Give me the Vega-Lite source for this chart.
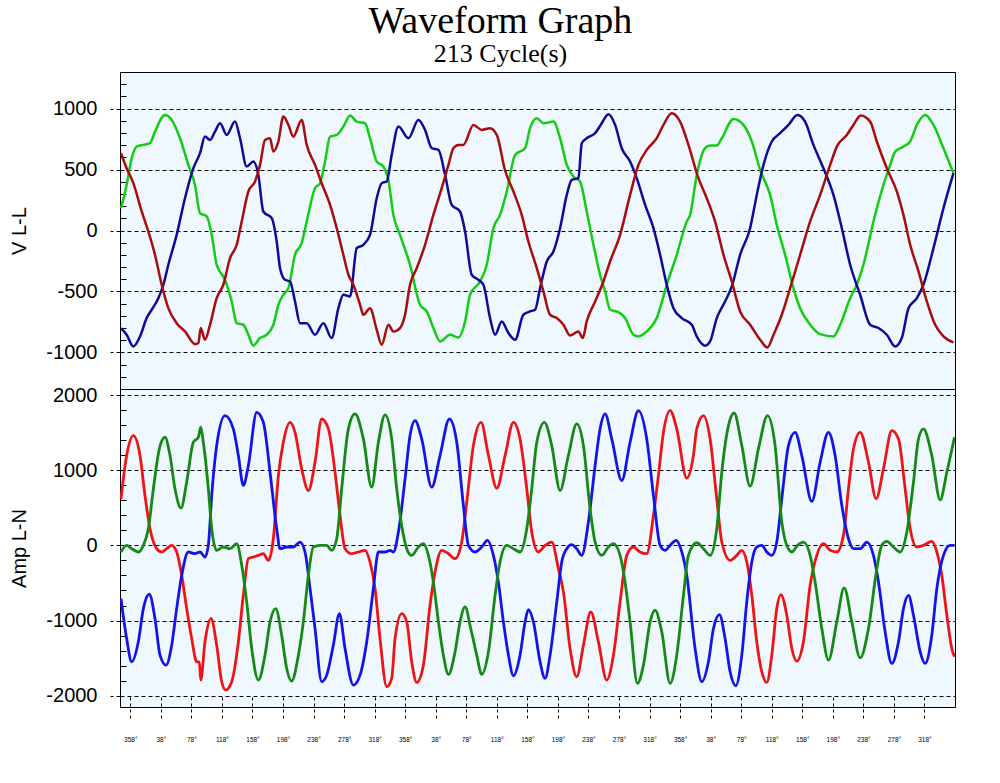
{
  "$schema": "https://vega.github.io/schema/vega-lite/v6.json",
  "background": "white",
  "padding": {"left": 9, "top": 2, "right": 45, "bottom": 35},
  "bounds": "flush",
  "title": {"text": "Waveform Graph", "subtitle": "213 Cycle(s)", "font": "Liberation Serif", "fontSize": 38, "fontWeight": "normal", "color": "black", "subtitleFont": "Liberation Serif", "subtitleFontSize": 26, "subtitleColor": "black", "subtitlePadding": 0, "anchor": "middle", "frame": "bounds", "offset": 5, "dx": 18},
  "datasets": {
    "vll": [
      {"deg":345.8,"ph":"Vab","v":183},{"deg":353.2,"ph":"Vab","v":374},{"deg":359.8,"ph":"Vab","v":593},{"deg":366.3,"ph":"Vab","v":688},{"deg":375.1,"ph":"Vab","v":702},{"deg":383.8,"ph":"Vab","v":716},{"deg":390.3,"ph":"Vab","v":811},{"deg":403.4,"ph":"Vab","v":948},{"deg":412.2,"ph":"Vab","v":907},{"deg":423.1,"ph":"Vab","v":757},{"deg":434.0,"ph":"Vab","v":538},{"deg":442.7,"ph":"Vab","v":374},{"deg":449.3,"ph":"Vab","v":142},{"deg":458.0,"ph":"Vab","v":115},{"deg":464.6,"ph":"Vab","v":-36},{"deg":471.1,"ph":"Vab","v":-281},{"deg":482.0,"ph":"Vab","v":-404},{"deg":490.8,"ph":"Vab","v":-582},{"deg":497.3,"ph":"Vab","v":-760},{"deg":506.0,"ph":"Vab","v":-773},{"deg":512.6,"ph":"Vab","v":-855},{"deg":519.1,"ph":"Vab","v":-943},{"deg":527.9,"ph":"Vab","v":-882},{"deg":536.6,"ph":"Vab","v":-855},{"deg":545.3,"ph":"Vab","v":-773},{"deg":551.9,"ph":"Vab","v":-609},{"deg":558.4,"ph":"Vab","v":-527},{"deg":565.0,"ph":"Vab","v":-473},{"deg":573.7,"ph":"Vab","v":-199},{"deg":582.4,"ph":"Vab","v":-104},{"deg":589.0,"ph":"Vab","v":74},{"deg":599.9,"ph":"Vab","v":347},{"deg":606.5,"ph":"Vab","v":388},{"deg":613.0,"ph":"Vab","v":566},{"deg":619.6,"ph":"Vab","v":770},{"deg":628.3,"ph":"Vab","v":784},{"deg":637.0,"ph":"Vab","v":852},{"deg":645.8,"ph":"Vab","v":943},{"deg":654.5,"ph":"Vab","v":893},{"deg":665.4,"ph":"Vab","v":880},{"deg":671.9,"ph":"Vab","v":757},{"deg":680.7,"ph":"Vab","v":566},{"deg":689.4,"ph":"Vab","v":525},{"deg":696.0,"ph":"Vab","v":415},{"deg":702.5,"ph":"Vab","v":128},{"deg":711.2,"ph":"Vab","v":-36},{"deg":724.3,"ph":"Vab","v":-281},{"deg":737.4,"ph":"Vab","v":-609},{"deg":746.2,"ph":"Vab","v":-664},{"deg":754.9,"ph":"Vab","v":-800},{"deg":763.6,"ph":"Vab","v":-910},{"deg":776.7,"ph":"Vab","v":-855},{"deg":787.7,"ph":"Vab","v":-877},{"deg":796.4,"ph":"Vab","v":-746},{"deg":802.9,"ph":"Vab","v":-527},{"deg":816.0,"ph":"Vab","v":-418},{"deg":824.8,"ph":"Vab","v":-281},{"deg":833.5,"ph":"Vab","v":19},{"deg":842.2,"ph":"Vab","v":128},{"deg":851.0,"ph":"Vab","v":320},{"deg":861.9,"ph":"Vab","v":620},{"deg":875.0,"ph":"Vab","v":675},{"deg":881.5,"ph":"Vab","v":839},{"deg":890.3,"ph":"Vab","v":921},{"deg":899.0,"ph":"Vab","v":880},{"deg":912.1,"ph":"Vab","v":893},{"deg":920.8,"ph":"Vab","v":757},{"deg":929.6,"ph":"Vab","v":538},{"deg":938.3,"ph":"Vab","v":443},{"deg":947.0,"ph":"Vab","v":402},{"deg":955.7,"ph":"Vab","v":156},{"deg":964.5,"ph":"Vab","v":-117},{"deg":973.2,"ph":"Vab","v":-363},{"deg":979.8,"ph":"Vab","v":-500},{"deg":986.3,"ph":"Vab","v":-650},{"deg":997.2,"ph":"Vab","v":-669},{"deg":1005.9,"ph":"Vab","v":-718},{"deg":1016.9,"ph":"Vab","v":-855},{"deg":1023.4,"ph":"Vab","v":-869},{"deg":1034.3,"ph":"Vab","v":-828},{"deg":1047.4,"ph":"Vab","v":-718},{"deg":1060.5,"ph":"Vab","v":-445},{"deg":1073.6,"ph":"Vab","v":-199},{"deg":1086.7,"ph":"Vab","v":74},{"deg":1091.1,"ph":"Vab","v":128},{"deg":1099.8,"ph":"Vab","v":456},{"deg":1110.7,"ph":"Vab","v":675},{"deg":1117.3,"ph":"Vab","v":697},{"deg":1126.0,"ph":"Vab","v":697},{"deg":1132.6,"ph":"Vab","v":757},{"deg":1147.9,"ph":"Vab","v":915},{"deg":1161.0,"ph":"Vab","v":866},{"deg":1171.9,"ph":"Vab","v":730},{"deg":1182.8,"ph":"Vab","v":497},{"deg":1195.9,"ph":"Vab","v":292},{"deg":1204.6,"ph":"Vab","v":46},{"deg":1215.5,"ph":"Vab","v":-199},{"deg":1226.4,"ph":"Vab","v":-473},{"deg":1235.2,"ph":"Vab","v":-637},{"deg":1248.3,"ph":"Vab","v":-773},{"deg":1261.4,"ph":"Vab","v":-850},{"deg":1278.8,"ph":"Vab","v":-869},{"deg":1287.6,"ph":"Vab","v":-773},{"deg":1300.7,"ph":"Vab","v":-555},{"deg":1309.4,"ph":"Vab","v":-445},{"deg":1318.1,"ph":"Vab","v":-281},{"deg":1331.2,"ph":"Vab","v":74},{"deg":1344.3,"ph":"Vab","v":374},{"deg":1353.1,"ph":"Vab","v":538},{"deg":1359.6,"ph":"Vab","v":647},{"deg":1370.5,"ph":"Vab","v":688},{"deg":1379.3,"ph":"Vab","v":730},{"deg":1388.0,"ph":"Vab","v":866},{"deg":1398.9,"ph":"Vab","v":948},{"deg":1409.8,"ph":"Vab","v":866},{"deg":1422.9,"ph":"Vab","v":675},{"deg":1436.0,"ph":"Vab","v":470},
      {"deg":345.8,"ph":"Vbc","v":-800},{"deg":353.2,"ph":"Vbc","v":-855},{"deg":362.0,"ph":"Vbc","v":-951},{"deg":370.7,"ph":"Vbc","v":-869},{"deg":379.4,"ph":"Vbc","v":-718},{"deg":386.0,"ph":"Vbc","v":-650},{"deg":394.7,"ph":"Vbc","v":-555},{"deg":401.3,"ph":"Vbc","v":-445},{"deg":407.8,"ph":"Vbc","v":-281},{"deg":418.7,"ph":"Vbc","v":-36},{"deg":429.6,"ph":"Vbc","v":265},{"deg":440.6,"ph":"Vbc","v":511},{"deg":449.3,"ph":"Vbc","v":634},{"deg":455.8,"ph":"Vbc","v":770},{"deg":462.4,"ph":"Vbc","v":743},{"deg":468.9,"ph":"Vbc","v":811},{"deg":475.5,"ph":"Vbc","v":880},{"deg":484.2,"ph":"Vbc","v":784},{"deg":495.1,"ph":"Vbc","v":893},{"deg":501.7,"ph":"Vbc","v":757},{"deg":510.4,"ph":"Vbc","v":525},{"deg":519.1,"ph":"Vbc","v":566},{"deg":525.7,"ph":"Vbc","v":456},{"deg":532.2,"ph":"Vbc","v":156},{"deg":543.2,"ph":"Vbc","v":101},{"deg":549.7,"ph":"Vbc","v":-90},{"deg":554.1,"ph":"Vbc","v":-309},{"deg":560.6,"ph":"Vbc","v":-404},{"deg":567.2,"ph":"Vbc","v":-418},{"deg":573.7,"ph":"Vbc","v":-582},{"deg":580.3,"ph":"Vbc","v":-760},{"deg":589.0,"ph":"Vbc","v":-760},{"deg":599.9,"ph":"Vbc","v":-855},{"deg":610.8,"ph":"Vbc","v":-760},{"deg":621.7,"ph":"Vbc","v":-882},{"deg":630.5,"ph":"Vbc","v":-637},{"deg":637.0,"ph":"Vbc","v":-527},{"deg":645.8,"ph":"Vbc","v":-541},{"deg":654.5,"ph":"Vbc","v":-145},{"deg":663.2,"ph":"Vbc","v":-117},{"deg":671.9,"ph":"Vbc","v":-36},{"deg":680.7,"ph":"Vbc","v":265},{"deg":687.2,"ph":"Vbc","v":388},{"deg":693.8,"ph":"Vbc","v":402},{"deg":700.3,"ph":"Vbc","v":620},{"deg":709.1,"ph":"Vbc","v":852},{"deg":722.2,"ph":"Vbc","v":757},{"deg":735.3,"ph":"Vbc","v":907},{"deg":744.0,"ph":"Vbc","v":825},{"deg":752.7,"ph":"Vbc","v":675},{"deg":761.5,"ph":"Vbc","v":661},{"deg":770.2,"ph":"Vbc","v":456},{"deg":778.9,"ph":"Vbc","v":210},{"deg":789.8,"ph":"Vbc","v":156},{"deg":796.4,"ph":"Vbc","v":-8},{"deg":805.1,"ph":"Vbc","v":-363},{"deg":813.8,"ph":"Vbc","v":-404},{"deg":820.4,"ph":"Vbc","v":-445},{"deg":829.1,"ph":"Vbc","v":-718},{"deg":835.7,"ph":"Vbc","v":-855},{"deg":844.4,"ph":"Vbc","v":-746},{"deg":853.2,"ph":"Vbc","v":-841},{"deg":861.9,"ph":"Vbc","v":-896},{"deg":872.8,"ph":"Vbc","v":-691},{"deg":881.5,"ph":"Vbc","v":-664},{"deg":888.1,"ph":"Vbc","v":-650},{"deg":894.6,"ph":"Vbc","v":-473},{"deg":903.4,"ph":"Vbc","v":-254},{"deg":912.1,"ph":"Vbc","v":-172},{"deg":920.8,"ph":"Vbc","v":19},{"deg":929.6,"ph":"Vbc","v":292},{"deg":936.1,"ph":"Vbc","v":415},{"deg":944.8,"ph":"Vbc","v":429},{"deg":949.2,"ph":"Vbc","v":716},{"deg":955.7,"ph":"Vbc","v":757},{"deg":966.7,"ph":"Vbc","v":798},{"deg":975.4,"ph":"Vbc","v":880},{"deg":984.1,"ph":"Vbc","v":954},{"deg":992.9,"ph":"Vbc","v":866},{"deg":1001.6,"ph":"Vbc","v":675},{"deg":1012.5,"ph":"Vbc","v":566},{"deg":1021.2,"ph":"Vbc","v":429},{"deg":1032.2,"ph":"Vbc","v":210},{"deg":1043.1,"ph":"Vbc","v":19},{"deg":1051.8,"ph":"Vbc","v":-199},{"deg":1060.5,"ph":"Vbc","v":-445},{"deg":1069.3,"ph":"Vbc","v":-637},{"deg":1080.2,"ph":"Vbc","v":-718},{"deg":1093.3,"ph":"Vbc","v":-773},{"deg":1099.8,"ph":"Vbc","v":-869},{"deg":1110.7,"ph":"Vbc","v":-945},{"deg":1117.3,"ph":"Vbc","v":-910},{"deg":1126.0,"ph":"Vbc","v":-718},{"deg":1136.9,"ph":"Vbc","v":-582},{"deg":1145.7,"ph":"Vbc","v":-459},{"deg":1156.6,"ph":"Vbc","v":-199},{"deg":1169.7,"ph":"Vbc","v":19},{"deg":1178.4,"ph":"Vbc","v":292},{"deg":1187.2,"ph":"Vbc","v":538},{"deg":1198.1,"ph":"Vbc","v":730},{"deg":1209.0,"ph":"Vbc","v":798},{"deg":1219.9,"ph":"Vbc","v":866},{"deg":1231.7,"ph":"Vbc","v":948},{"deg":1241.7,"ph":"Vbc","v":893},{"deg":1252.6,"ph":"Vbc","v":702},{"deg":1265.7,"ph":"Vbc","v":511},{"deg":1278.8,"ph":"Vbc","v":292},{"deg":1289.8,"ph":"Vbc","v":19},{"deg":1300.7,"ph":"Vbc","v":-281},{"deg":1313.8,"ph":"Vbc","v":-527},{"deg":1326.9,"ph":"Vbc","v":-773},{"deg":1337.8,"ph":"Vbc","v":-800},{"deg":1348.7,"ph":"Vbc","v":-855},{"deg":1359.6,"ph":"Vbc","v":-951},{"deg":1368.3,"ph":"Vbc","v":-882},{"deg":1377.1,"ph":"Vbc","v":-637},{"deg":1388.0,"ph":"Vbc","v":-555},{"deg":1396.7,"ph":"Vbc","v":-445},{"deg":1409.8,"ph":"Vbc","v":-145},{"deg":1422.9,"ph":"Vbc","v":183},{"deg":1436.0,"ph":"Vbc","v":470},
      {"deg":345.8,"ph":"Vca","v":634},{"deg":353.2,"ph":"Vca","v":511},{"deg":362.0,"ph":"Vca","v":388},{"deg":372.9,"ph":"Vca","v":156},{"deg":381.6,"ph":"Vca","v":-8},{"deg":390.3,"ph":"Vca","v":-199},{"deg":399.1,"ph":"Vca","v":-445},{"deg":407.8,"ph":"Vca","v":-637},{"deg":418.7,"ph":"Vca","v":-760},{"deg":429.6,"ph":"Vca","v":-828},{"deg":442.7,"ph":"Vca","v":-932},{"deg":447.1,"ph":"Vca","v":-923},{"deg":450.2,"ph":"Vca","v":-800},{"deg":455.8,"ph":"Vca","v":-896},{"deg":462.4,"ph":"Vca","v":-773},{"deg":471.1,"ph":"Vca","v":-555},{"deg":479.8,"ph":"Vca","v":-445},{"deg":488.6,"ph":"Vca","v":-227},{"deg":497.3,"ph":"Vca","v":-117},{"deg":503.9,"ph":"Vca","v":74},{"deg":512.6,"ph":"Vca","v":320},{"deg":521.3,"ph":"Vca","v":402},{"deg":527.9,"ph":"Vca","v":538},{"deg":534.4,"ph":"Vca","v":743},{"deg":541.0,"ph":"Vca","v":757},{"deg":545.3,"ph":"Vca","v":648},{"deg":551.9,"ph":"Vca","v":730},{"deg":558.4,"ph":"Vca","v":934},{"deg":565.0,"ph":"Vca","v":866},{"deg":571.5,"ph":"Vca","v":770},{"deg":582.4,"ph":"Vca","v":907},{"deg":589.0,"ph":"Vca","v":702},{"deg":599.9,"ph":"Vca","v":538},{"deg":608.6,"ph":"Vca","v":388},{"deg":619.6,"ph":"Vca","v":210},{"deg":628.3,"ph":"Vca","v":19},{"deg":637.0,"ph":"Vca","v":-199},{"deg":643.6,"ph":"Vca","v":-363},{"deg":650.1,"ph":"Vca","v":-445},{"deg":658.9,"ph":"Vca","v":-609},{"deg":663.2,"ph":"Vca","v":-691},{"deg":671.9,"ph":"Vca","v":-637},{"deg":680.7,"ph":"Vca","v":-814},{"deg":687.2,"ph":"Vca","v":-937},{"deg":696.0,"ph":"Vca","v":-773},{"deg":702.5,"ph":"Vca","v":-828},{"deg":711.2,"ph":"Vca","v":-800},{"deg":717.8,"ph":"Vca","v":-691},{"deg":724.3,"ph":"Vca","v":-445},{"deg":733.1,"ph":"Vca","v":-309},{"deg":744.0,"ph":"Vca","v":-117},{"deg":754.9,"ph":"Vca","v":128},{"deg":765.8,"ph":"Vca","v":347},{"deg":774.6,"ph":"Vca","v":538},{"deg":781.1,"ph":"Vca","v":675},{"deg":787.7,"ph":"Vca","v":702},{"deg":794.2,"ph":"Vca","v":702},{"deg":807.3,"ph":"Vca","v":866},{"deg":818.2,"ph":"Vca","v":825},{"deg":829.1,"ph":"Vca","v":839},{"deg":837.9,"ph":"Vca","v":784},{"deg":848.8,"ph":"Vca","v":492},{"deg":859.7,"ph":"Vca","v":320},{"deg":870.6,"ph":"Vca","v":128},{"deg":879.3,"ph":"Vca","v":-90},{"deg":890.3,"ph":"Vca","v":-309},{"deg":899.0,"ph":"Vca","v":-500},{"deg":907.7,"ph":"Vca","v":-691},{"deg":916.5,"ph":"Vca","v":-718},{"deg":925.2,"ph":"Vca","v":-773},{"deg":933.9,"ph":"Vca","v":-861},{"deg":944.8,"ph":"Vca","v":-828},{"deg":950.5,"ph":"Vca","v":-882},{"deg":955.7,"ph":"Vca","v":-746},{"deg":966.7,"ph":"Vca","v":-582},{"deg":977.6,"ph":"Vca","v":-418},{"deg":986.3,"ph":"Vca","v":-254},{"deg":999.4,"ph":"Vca","v":-36},{"deg":1012.5,"ph":"Vca","v":292},{"deg":1023.4,"ph":"Vca","v":538},{"deg":1034.3,"ph":"Vca","v":661},{"deg":1047.4,"ph":"Vca","v":757},{"deg":1056.2,"ph":"Vca","v":866},{"deg":1067.1,"ph":"Vca","v":962},{"deg":1078.0,"ph":"Vca","v":893},{"deg":1088.9,"ph":"Vca","v":702},{"deg":1102.0,"ph":"Vca","v":429},{"deg":1112.9,"ph":"Vca","v":265},{"deg":1123.8,"ph":"Vca","v":74},{"deg":1134.8,"ph":"Vca","v":-199},{"deg":1145.7,"ph":"Vca","v":-418},{"deg":1156.6,"ph":"Vca","v":-664},{"deg":1169.7,"ph":"Vca","v":-773},{"deg":1182.8,"ph":"Vca","v":-896},{"deg":1192.4,"ph":"Vca","v":-959},{"deg":1200.3,"ph":"Vca","v":-855},{"deg":1211.2,"ph":"Vca","v":-691},{"deg":1222.1,"ph":"Vca","v":-473},{"deg":1235.2,"ph":"Vca","v":-199},{"deg":1248.3,"ph":"Vca","v":74},{"deg":1261.4,"ph":"Vca","v":292},{"deg":1274.5,"ph":"Vca","v":538},{"deg":1283.2,"ph":"Vca","v":688},{"deg":1296.3,"ph":"Vca","v":784},{"deg":1305.0,"ph":"Vca","v":866},{"deg":1314.6,"ph":"Vca","v":943},{"deg":1326.9,"ph":"Vca","v":893},{"deg":1335.6,"ph":"Vca","v":730},{"deg":1348.7,"ph":"Vca","v":511},{"deg":1361.8,"ph":"Vca","v":320},{"deg":1370.5,"ph":"Vca","v":128},{"deg":1379.3,"ph":"Vca","v":-117},{"deg":1390.2,"ph":"Vca","v":-336},{"deg":1401.1,"ph":"Vca","v":-582},{"deg":1412.0,"ph":"Vca","v":-773},{"deg":1422.9,"ph":"Vca","v":-869},{"deg":1436.0,"ph":"Vca","v":-918}
    ],
    "amp": [
      {"deg":345.8,"ph":"Ia","a":620},{"deg":353.2,"ph":"Ia","a":1195},{"deg":362.0,"ph":"Ia","a":1460},{"deg":370.7,"ph":"Ia","a":1195},{"deg":377.2,"ph":"Ia","a":664},{"deg":383.8,"ph":"Ia","a":221},{"deg":392.5,"ph":"Ia","a":-44},{"deg":399.1,"ph":"Ia","a":-88},{"deg":405.6,"ph":"Ia","a":-44},{"deg":412.2,"ph":"Ia","a":0},{"deg":418.7,"ph":"Ia","a":-88},{"deg":425.3,"ph":"Ia","a":-398},{"deg":431.8,"ph":"Ia","a":-841},{"deg":438.4,"ph":"Ia","a":-1239},{"deg":444.9,"ph":"Ia","a":-1549},{"deg":448.4,"ph":"Ia","a":-1549},{"deg":450.2,"ph":"Ia","a":-1792},{"deg":455.8,"ph":"Ia","a":-1283},{"deg":463.7,"ph":"Ia","a":-973},{"deg":471.1,"ph":"Ia","a":-1327},{"deg":477.7,"ph":"Ia","a":-1814},{"deg":482.9,"ph":"Ia","a":-1925},{"deg":490.8,"ph":"Ia","a":-1814},{"deg":499.5,"ph":"Ia","a":-1283},{"deg":506.0,"ph":"Ia","a":-664},{"deg":512.6,"ph":"Ia","a":-177},{"deg":519.1,"ph":"Ia","a":-155},{"deg":525.7,"ph":"Ia","a":-133},{"deg":532.2,"ph":"Ia","a":-111},{"deg":538.8,"ph":"Ia","a":-199},{"deg":545.3,"ph":"Ia","a":88},{"deg":551.9,"ph":"Ia","a":929},{"deg":558.4,"ph":"Ia","a":1372},{"deg":567.2,"ph":"Ia","a":1637},{"deg":573.7,"ph":"Ia","a":1504},{"deg":582.4,"ph":"Ia","a":1018},{"deg":591.2,"ph":"Ia","a":730},{"deg":599.9,"ph":"Ia","a":1106},{"deg":608.6,"ph":"Ia","a":1681},{"deg":617.4,"ph":"Ia","a":1549},{"deg":626.1,"ph":"Ia","a":973},{"deg":632.7,"ph":"Ia","a":398},{"deg":639.2,"ph":"Ia","a":-44},{"deg":647.9,"ph":"Ia","a":-111},{"deg":656.7,"ph":"Ia","a":-88},{"deg":665.4,"ph":"Ia","a":-66},{"deg":671.9,"ph":"Ia","a":-221},{"deg":678.5,"ph":"Ia","a":-575},{"deg":685.0,"ph":"Ia","a":-1239},{"deg":693.8,"ph":"Ia","a":-1881},{"deg":700.3,"ph":"Ia","a":-1770},{"deg":704.7,"ph":"Ia","a":-1239},{"deg":713.4,"ph":"Ia","a":-907},{"deg":720.0,"ph":"Ia","a":-1018},{"deg":726.5,"ph":"Ia","a":-1549},{"deg":733.1,"ph":"Ia","a":-1823},{"deg":741.8,"ph":"Ia","a":-1593},{"deg":750.5,"ph":"Ia","a":-797},{"deg":757.1,"ph":"Ia","a":-354},{"deg":765.8,"ph":"Ia","a":-66},{"deg":774.6,"ph":"Ia","a":-111},{"deg":783.3,"ph":"Ia","a":-177},{"deg":792.0,"ph":"Ia","a":44},{"deg":798.6,"ph":"Ia","a":575},{"deg":807.3,"ph":"Ia","a":1327},{"deg":817.3,"ph":"Ia","a":1637},{"deg":827.0,"ph":"Ia","a":1195},{"deg":837.9,"ph":"Ia","a":761},{"deg":848.8,"ph":"Ia","a":1195},{"deg":859.7,"ph":"Ia","a":1637},{"deg":868.4,"ph":"Ia","a":1416},{"deg":877.2,"ph":"Ia","a":752},{"deg":883.7,"ph":"Ia","a":177},{"deg":892.4,"ph":"Ia","a":-88},{"deg":901.2,"ph":"Ia","a":0},{"deg":909.9,"ph":"Ia","a":44},{"deg":918.6,"ph":"Ia","a":-310},{"deg":925.2,"ph":"Ia","a":-619},{"deg":933.9,"ph":"Ia","a":-1372},{"deg":942.6,"ph":"Ia","a":-1748},{"deg":951.4,"ph":"Ia","a":-1327},{"deg":961.0,"ph":"Ia","a":-885},{"deg":971.0,"ph":"Ia","a":-1283},{"deg":981.9,"ph":"Ia","a":-1792},{"deg":990.7,"ph":"Ia","a":-1460},{"deg":999.4,"ph":"Ia","a":-752},{"deg":1008.2,"ph":"Ia","a":-133},{"deg":1016.9,"ph":"Ia","a":-22},{"deg":1025.6,"ph":"Ia","a":-88},{"deg":1034.3,"ph":"Ia","a":-111},{"deg":1043.1,"ph":"Ia","a":398},{"deg":1049.6,"ph":"Ia","a":929},{"deg":1056.2,"ph":"Ia","a":1504},{"deg":1064.9,"ph":"Ia","a":1792},{"deg":1073.6,"ph":"Ia","a":1549},{"deg":1086.7,"ph":"Ia","a":894},{"deg":1095.4,"ph":"Ia","a":1195},{"deg":1099.8,"ph":"Ia","a":1549},{"deg":1108.6,"ph":"Ia","a":1726},{"deg":1117.3,"ph":"Ia","a":1416},{"deg":1126.0,"ph":"Ia","a":620},{"deg":1132.6,"ph":"Ia","a":44},{"deg":1143.5,"ph":"Ia","a":-199},{"deg":1152.2,"ph":"Ia","a":-133},{"deg":1158.8,"ph":"Ia","a":-66},{"deg":1165.3,"ph":"Ia","a":-221},{"deg":1171.9,"ph":"Ia","a":-664},{"deg":1178.4,"ph":"Ia","a":-1283},{"deg":1185.0,"ph":"Ia","a":-1681},{"deg":1191.5,"ph":"Ia","a":-1823},{"deg":1198.1,"ph":"Ia","a":-1460},{"deg":1204.6,"ph":"Ia","a":-841},{"deg":1209.9,"ph":"Ia","a":-655},{"deg":1217.7,"ph":"Ia","a":-929},{"deg":1224.3,"ph":"Ia","a":-1372},{"deg":1230.8,"ph":"Ia","a":-1540},{"deg":1239.5,"ph":"Ia","a":-1283},{"deg":1248.3,"ph":"Ia","a":-531},{"deg":1257.0,"ph":"Ia","a":-133},{"deg":1265.7,"ph":"Ia","a":22},{"deg":1274.5,"ph":"Ia","a":-66},{"deg":1283.2,"ph":"Ia","a":-88},{"deg":1291.9,"ph":"Ia","a":133},{"deg":1298.5,"ph":"Ia","a":752},{"deg":1305.0,"ph":"Ia","a":1283},{"deg":1313.8,"ph":"Ia","a":1504},{"deg":1324.7,"ph":"Ia","a":1106},{"deg":1334.7,"ph":"Ia","a":620},{"deg":1344.3,"ph":"Ia","a":1018},{"deg":1355.2,"ph":"Ia","a":1526},{"deg":1364.0,"ph":"Ia","a":1416},{"deg":1372.7,"ph":"Ia","a":752},{"deg":1379.3,"ph":"Ia","a":221},{"deg":1388.0,"ph":"Ia","a":-22},{"deg":1396.7,"ph":"Ia","a":0},{"deg":1407.6,"ph":"Ia","a":53},{"deg":1414.2,"ph":"Ia","a":-88},{"deg":1420.7,"ph":"Ia","a":-398},{"deg":1427.3,"ph":"Ia","a":-929},{"deg":1433.8,"ph":"Ia","a":-1372},{"deg":1437.3,"ph":"Ia","a":-1482},
      {"deg":345.8,"ph":"Ib","a":-708},{"deg":353.2,"ph":"Ib","a":-1239},{"deg":359.8,"ph":"Ib","a":-1549},{"deg":368.5,"ph":"Ib","a":-1283},{"deg":375.1,"ph":"Ib","a":-841},{"deg":382.9,"ph":"Ib","a":-650},{"deg":390.3,"ph":"Ib","a":-973},{"deg":396.9,"ph":"Ib","a":-1460},{"deg":404.7,"ph":"Ib","a":-1593},{"deg":412.2,"ph":"Ib","a":-1327},{"deg":418.7,"ph":"Ib","a":-841},{"deg":425.3,"ph":"Ib","a":-398},{"deg":434.0,"ph":"Ib","a":-88},{"deg":442.7,"ph":"Ib","a":-111},{"deg":449.3,"ph":"Ib","a":-88},{"deg":455.8,"ph":"Ib","a":-155},{"deg":460.2,"ph":"Ib","a":0},{"deg":464.6,"ph":"Ib","a":664},{"deg":471.1,"ph":"Ib","a":1327},{"deg":482.0,"ph":"Ib","a":1726},{"deg":492.9,"ph":"Ib","a":1549},{"deg":499.5,"ph":"Ib","a":1195},{"deg":506.0,"ph":"Ib","a":797},{"deg":512.6,"ph":"Ib","a":1062},{"deg":523.5,"ph":"Ib","a":1770},{"deg":532.2,"ph":"Ib","a":1637},{"deg":541.0,"ph":"Ib","a":973},{"deg":549.7,"ph":"Ib","a":221},{"deg":554.1,"ph":"Ib","a":-44},{"deg":562.8,"ph":"Ib","a":-22},{"deg":571.5,"ph":"Ib","a":-22},{"deg":580.3,"ph":"Ib","a":44},{"deg":586.8,"ph":"Ib","a":-88},{"deg":593.4,"ph":"Ib","a":-575},{"deg":599.9,"ph":"Ib","a":-1106},{"deg":608.6,"ph":"Ib","a":-1814},{"deg":615.2,"ph":"Ib","a":-1726},{"deg":623.9,"ph":"Ib","a":-1327},{"deg":631.8,"ph":"Ib","a":-907},{"deg":639.2,"ph":"Ib","a":-1372},{"deg":650.1,"ph":"Ib","a":-1858},{"deg":658.9,"ph":"Ib","a":-1726},{"deg":667.6,"ph":"Ib","a":-1283},{"deg":676.3,"ph":"Ib","a":-575},{"deg":682.9,"ph":"Ib","a":-88},{"deg":691.6,"ph":"Ib","a":-88},{"deg":698.1,"ph":"Ib","a":-66},{"deg":702.5,"ph":"Ib","a":-88},{"deg":709.1,"ph":"Ib","a":177},{"deg":717.8,"ph":"Ib","a":885},{"deg":724.3,"ph":"Ib","a":1460},{"deg":730.9,"ph":"Ib","a":1659},{"deg":739.6,"ph":"Ib","a":1416},{"deg":752.7,"ph":"Ib","a":774},{"deg":763.6,"ph":"Ib","a":1195},{"deg":775.9,"ph":"Ib","a":1681},{"deg":785.5,"ph":"Ib","a":1372},{"deg":794.2,"ph":"Ib","a":531},{"deg":800.8,"ph":"Ib","a":0},{"deg":809.5,"ph":"Ib","a":-88},{"deg":818.2,"ph":"Ib","a":-22},{"deg":825.6,"ph":"Ib","a":66},{"deg":833.5,"ph":"Ib","a":-133},{"deg":840.0,"ph":"Ib","a":-487},{"deg":846.6,"ph":"Ib","a":-1018},{"deg":853.2,"ph":"Ib","a":-1460},{"deg":859.7,"ph":"Ib","a":-1735},{"deg":868.4,"ph":"Ib","a":-1460},{"deg":875.0,"ph":"Ib","a":-1018},{"deg":879.3,"ph":"Ib","a":-854},{"deg":885.9,"ph":"Ib","a":-1018},{"deg":894.6,"ph":"Ib","a":-1549},{"deg":901.2,"ph":"Ib","a":-1770},{"deg":907.7,"ph":"Ib","a":-1460},{"deg":916.5,"ph":"Ib","a":-752},{"deg":923.0,"ph":"Ib","a":-221},{"deg":929.6,"ph":"Ib","a":-44},{"deg":936.1,"ph":"Ib","a":9},{"deg":942.6,"ph":"Ib","a":-44},{"deg":949.2,"ph":"Ib","a":-133},{"deg":957.9,"ph":"Ib","a":310},{"deg":966.7,"ph":"Ib","a":1062},{"deg":973.2,"ph":"Ib","a":1549},{"deg":979.8,"ph":"Ib","a":1748},{"deg":988.5,"ph":"Ib","a":1416},{"deg":1001.6,"ph":"Ib","a":863},{"deg":1012.5,"ph":"Ib","a":1372},{"deg":1023.4,"ph":"Ib","a":1792},{"deg":1034.3,"ph":"Ib","a":1416},{"deg":1043.1,"ph":"Ib","a":664},{"deg":1051.8,"ph":"Ib","a":0},{"deg":1058.4,"ph":"Ib","a":-66},{"deg":1064.9,"ph":"Ib","a":0},{"deg":1072.8,"ph":"Ib","a":66},{"deg":1080.2,"ph":"Ib","a":-88},{"deg":1086.7,"ph":"Ib","a":-398},{"deg":1097.6,"ph":"Ib","a":-1372},{"deg":1106.4,"ph":"Ib","a":-1814},{"deg":1115.1,"ph":"Ib","a":-1549},{"deg":1121.7,"ph":"Ib","a":-1106},{"deg":1129.5,"ph":"Ib","a":-920},{"deg":1136.9,"ph":"Ib","a":-1239},{"deg":1143.5,"ph":"Ib","a":-1681},{"deg":1150.9,"ph":"Ib","a":-1867},{"deg":1158.8,"ph":"Ib","a":-1460},{"deg":1165.3,"ph":"Ib","a":-752},{"deg":1171.9,"ph":"Ib","a":-221},{"deg":1178.4,"ph":"Ib","a":-22},{"deg":1185.0,"ph":"Ib","a":0},{"deg":1191.5,"ph":"Ib","a":-88},{"deg":1198.1,"ph":"Ib","a":-133},{"deg":1204.6,"ph":"Ib","a":44},{"deg":1211.2,"ph":"Ib","a":620},{"deg":1219.9,"ph":"Ib","a":1327},{"deg":1228.6,"ph":"Ib","a":1504},{"deg":1237.4,"ph":"Ib","a":1195},{"deg":1250.5,"ph":"Ib","a":584},{"deg":1261.4,"ph":"Ib","a":1106},{"deg":1272.3,"ph":"Ib","a":1504},{"deg":1281.0,"ph":"Ib","a":1195},{"deg":1289.8,"ph":"Ib","a":531},{"deg":1298.5,"ph":"Ib","a":88},{"deg":1305.0,"ph":"Ib","a":-44},{"deg":1313.8,"ph":"Ib","a":-44},{"deg":1322.5,"ph":"Ib","a":44},{"deg":1331.2,"ph":"Ib","a":-133},{"deg":1337.8,"ph":"Ib","a":-487},{"deg":1346.5,"ph":"Ib","a":-1151},{"deg":1355.2,"ph":"Ib","a":-1571},{"deg":1364.0,"ph":"Ib","a":-1283},{"deg":1370.5,"ph":"Ib","a":-841},{"deg":1377.1,"ph":"Ib","a":-664},{"deg":1383.6,"ph":"Ib","a":-929},{"deg":1392.4,"ph":"Ib","a":-1416},{"deg":1398.9,"ph":"Ib","a":-1571},{"deg":1407.6,"ph":"Ib","a":-1195},{"deg":1414.2,"ph":"Ib","a":-575},{"deg":1422.9,"ph":"Ib","a":-133},{"deg":1431.6,"ph":"Ib","a":0},{"deg":1437.3,"ph":"Ib","a":0},
      {"deg":345.8,"ph":"Ic","a":-88},{"deg":353.2,"ph":"Ic","a":0},{"deg":359.8,"ph":"Ic","a":-44},{"deg":368.5,"ph":"Ic","a":-88},{"deg":375.1,"ph":"Ic","a":0},{"deg":381.6,"ph":"Ic","a":221},{"deg":388.2,"ph":"Ic","a":752},{"deg":396.0,"ph":"Ic","a":1283},{"deg":403.4,"ph":"Ic","a":1438},{"deg":410.0,"ph":"Ic","a":1195},{"deg":416.5,"ph":"Ic","a":752},{"deg":424.4,"ph":"Ic","a":496},{"deg":431.8,"ph":"Ic","a":841},{"deg":440.6,"ph":"Ic","a":1372},{"deg":447.1,"ph":"Ic","a":1438},{"deg":450.2,"ph":"Ic","a":1571},{"deg":453.6,"ph":"Ic","a":1372},{"deg":460.2,"ph":"Ic","a":752},{"deg":464.6,"ph":"Ic","a":221},{"deg":471.1,"ph":"Ic","a":-66},{"deg":479.8,"ph":"Ic","a":-22},{"deg":488.6,"ph":"Ic","a":-44},{"deg":497.3,"ph":"Ic","a":22},{"deg":503.9,"ph":"Ic","a":-265},{"deg":510.4,"ph":"Ic","a":-752},{"deg":517.0,"ph":"Ic","a":-1372},{"deg":525.7,"ph":"Ic","a":-1792},{"deg":534.4,"ph":"Ic","a":-1460},{"deg":541.0,"ph":"Ic","a":-1018},{"deg":548.4,"ph":"Ic","a":-841},{"deg":556.2,"ph":"Ic","a":-1195},{"deg":562.8,"ph":"Ic","a":-1637},{"deg":569.3,"ph":"Ic","a":-1805},{"deg":578.1,"ph":"Ic","a":-1460},{"deg":584.6,"ph":"Ic","a":-1018},{"deg":591.2,"ph":"Ic","a":-398},{"deg":597.7,"ph":"Ic","a":-22},{"deg":606.5,"ph":"Ic","a":0},{"deg":615.2,"ph":"Ic","a":0},{"deg":621.7,"ph":"Ic","a":-66},{"deg":628.3,"ph":"Ic","a":88},{"deg":634.8,"ph":"Ic","a":752},{"deg":643.6,"ph":"Ic","a":1549},{"deg":652.3,"ph":"Ic","a":1748},{"deg":663.2,"ph":"Ic","a":1416},{"deg":674.1,"ph":"Ic","a":774},{"deg":682.9,"ph":"Ic","a":1372},{"deg":691.6,"ph":"Ic","a":1735},{"deg":700.3,"ph":"Ic","a":1416},{"deg":706.9,"ph":"Ic","a":752},{"deg":713.4,"ph":"Ic","a":265},{"deg":720.0,"ph":"Ic","a":-44},{"deg":726.5,"ph":"Ic","a":-133},{"deg":735.3,"ph":"Ic","a":-22},{"deg":741.8,"ph":"Ic","a":22},{"deg":748.4,"ph":"Ic","a":-133},{"deg":754.9,"ph":"Ic","a":-487},{"deg":761.5,"ph":"Ic","a":-1018},{"deg":768.0,"ph":"Ic","a":-1460},{"deg":774.6,"ph":"Ic","a":-1717},{"deg":783.3,"ph":"Ic","a":-1416},{"deg":789.8,"ph":"Ic","a":-1018},{"deg":796.4,"ph":"Ic","a":-819},{"deg":803.8,"ph":"Ic","a":-1106},{"deg":811.7,"ph":"Ic","a":-1460},{"deg":818.2,"ph":"Ic","a":-1717},{"deg":827.0,"ph":"Ic","a":-1416},{"deg":835.7,"ph":"Ic","a":-664},{"deg":842.2,"ph":"Ic","a":-221},{"deg":851.0,"ph":"Ic","a":0},{"deg":859.7,"ph":"Ic","a":-44},{"deg":868.4,"ph":"Ic","a":-88},{"deg":877.2,"ph":"Ic","a":221},{"deg":883.7,"ph":"Ic","a":752},{"deg":890.3,"ph":"Ic","a":1372},{"deg":900.3,"ph":"Ic","a":1637},{"deg":909.9,"ph":"Ic","a":1327},{"deg":920.8,"ph":"Ic","a":730},{"deg":931.7,"ph":"Ic","a":1195},{"deg":942.6,"ph":"Ic","a":1615},{"deg":951.4,"ph":"Ic","a":1327},{"deg":960.1,"ph":"Ic","a":486},{"deg":966.7,"ph":"Ic","a":44},{"deg":975.4,"ph":"Ic","a":-133},{"deg":984.1,"ph":"Ic","a":-22},{"deg":990.7,"ph":"Ic","a":22},{"deg":999.4,"ph":"Ic","a":-133},{"deg":1005.9,"ph":"Ic","a":-487},{"deg":1012.5,"ph":"Ic","a":-1018},{"deg":1022.1,"ph":"Ic","a":-1836},{"deg":1030.0,"ph":"Ic","a":-1593},{"deg":1038.7,"ph":"Ic","a":-1018},{"deg":1045.2,"ph":"Ic","a":-863},{"deg":1054.0,"ph":"Ic","a":-1151},{"deg":1064.9,"ph":"Ic","a":-1836},{"deg":1073.6,"ph":"Ic","a":-1460},{"deg":1082.4,"ph":"Ic","a":-664},{"deg":1088.9,"ph":"Ic","a":-133},{"deg":1099.8,"ph":"Ic","a":35},{"deg":1108.6,"ph":"Ic","a":-44},{"deg":1117.3,"ph":"Ic","a":-133},{"deg":1126.0,"ph":"Ic","a":221},{"deg":1132.6,"ph":"Ic","a":973},{"deg":1141.3,"ph":"Ic","a":1593},{"deg":1148.7,"ph":"Ic","a":1761},{"deg":1158.8,"ph":"Ic","a":1327},{"deg":1169.7,"ph":"Ic","a":788},{"deg":1180.6,"ph":"Ic","a":1283},{"deg":1192.4,"ph":"Ic","a":1726},{"deg":1202.4,"ph":"Ic","a":1327},{"deg":1211.2,"ph":"Ic","a":310},{"deg":1217.7,"ph":"Ic","a":0},{"deg":1224.3,"ph":"Ic","a":-88},{"deg":1231.7,"ph":"Ic","a":0},{"deg":1239.5,"ph":"Ic","a":44},{"deg":1248.3,"ph":"Ic","a":-133},{"deg":1254.8,"ph":"Ic","a":-487},{"deg":1263.6,"ph":"Ic","a":-1106},{"deg":1272.3,"ph":"Ic","a":-1527},{"deg":1283.2,"ph":"Ic","a":-1018},{"deg":1292.8,"ph":"Ic","a":-566},{"deg":1302.9,"ph":"Ic","a":-1018},{"deg":1313.8,"ph":"Ic","a":-1496},{"deg":1324.7,"ph":"Ic","a":-1106},{"deg":1335.6,"ph":"Ic","a":-310},{"deg":1342.1,"ph":"Ic","a":0},{"deg":1348.7,"ph":"Ic","a":53},{"deg":1357.4,"ph":"Ic","a":-22},{"deg":1366.2,"ph":"Ic","a":-88},{"deg":1374.9,"ph":"Ic","a":177},{"deg":1383.6,"ph":"Ic","a":841},{"deg":1390.2,"ph":"Ic","a":1416},{"deg":1396.7,"ph":"Ic","a":1549},{"deg":1407.6,"ph":"Ic","a":1195},{"deg":1418.6,"ph":"Ic","a":606},{"deg":1427.3,"ph":"Ic","a":973},{"deg":1437.3,"ph":"Ic","a":1438}
    ]
  },
  "spacing": 0,
  "resolve": {"scale": {"y": "independent", "color": "independent"}},
  "vconcat": [
    {
      "width": 835,
      "height": 317,
      "data": {"name": "vll"},
      "mark": {"type": "line", "interpolate": "monotone", "strokeWidth": 2.5, "clip": true},
      "encoding": {
        "x": {"field": "deg", "type": "quantitative", "scale": {"domain": [344.5, 1438], "nice": false, "zero": false}, "axis": null},
        "y": {
          "field": "v", "type": "quantitative",
          "scale": {"domain": [-1300, 1300], "nice": false},
          "axis": {
            "title": "V L-L", "titleFontSize": 20, "titleFontWeight": "normal", "titlePadding": 16,
            "values": [-1200,-1100,-1000,-900,-800,-700,-600,-500,-400,-300,-200,-100,0,100,200,300,400,500,600,700,800,900,1000,1100,1200],
            "labelExpr": "datum.value % 500 === 0 ? '' + datum.value : ''",
            "labelFontSize": 20, "labelPadding": 13, "labelOverlap": false, "labelFlush": false, "labelBound": false,
            "grid": true, "gridDash": [4, 3], "gridColor": "black",
            "gridOpacity": {"condition": {"test": "datum.value % 500 === 0", "value": 1}, "value": 0},
            "tickSize": {"condition": {"test": "datum.value % 500 === 0", "value": 10}, "value": -6},
            "tickDash": {"condition": {"test": "datum.value % 500 === 0", "value": [4, 3]}, "value": [6, 0]},
            "tickColor": "black"
          }
        },
        "color": {"field": "ph", "type": "nominal", "scale": {"domain": ["Vab", "Vbc", "Vca"], "range": ["#14cc14", "#0c0c96", "#a80c0c"]}, "legend": null}
      }
    },
    {
      "width": 835,
      "height": 318,
      "data": {"name": "amp"},
      "mark": {"type": "line", "interpolate": "monotone", "strokeWidth": 2.8, "clip": true},
      "encoding": {
        "x": {
          "field": "deg", "type": "quantitative", "scale": {"domain": [344.5, 1438], "nice": false, "zero": false},
          "axis": {
            "title": null,
            "values": [358,398,438,478,518,558,598,638,678,718,758,798,838,878,918,958,998,1038,1078,1118,1158,1198,1238,1278,1318,1358,1398],
            "labelExpr": "(datum.value % 360) + '°'",
            "labelFontSize": 6.5, "labelPadding": 15, "labelOverlap": false, "labelFlush": false, "labelBound": false,
            "grid": false, "offset": -10, "tickSize": 24, "tickDash": [3, 3], "tickColor": "black"
          }
        },
        "y": {
          "field": "a", "type": "quantitative",
          "scale": {"domain": [-2150, 2080], "nice": false},
          "axis": {
            "title": "Amp L-N", "titleFontSize": 20, "titleFontWeight": "normal", "titlePadding": 16,
            "values": [-2000,-1800,-1600,-1400,-1200,-1000,-800,-600,-400,-200,0,200,400,600,800,1000,1200,1400,1600,1800,2000],
            "labelExpr": "datum.value % 1000 === 0 ? '' + datum.value : ''",
            "labelFontSize": 20, "labelPadding": 13, "labelOverlap": false, "labelFlush": false, "labelBound": false,
            "grid": true, "gridDash": [4, 3], "gridColor": "black",
            "gridOpacity": {"condition": {"test": "datum.value % 1000 === 0", "value": 1}, "value": 0},
            "tickSize": {"condition": {"test": "datum.value % 1000 === 0", "value": 10}, "value": -6},
            "tickDash": {"condition": {"test": "datum.value % 1000 === 0", "value": [4, 3]}, "value": [6, 0]},
            "tickColor": "black"
          }
        },
        "color": {"field": "ph", "type": "nominal", "scale": {"domain": ["Ia", "Ib", "Ic"], "range": ["#ee1414", "#1414e6", "#148a14"]}, "legend": null}
      }
    }
  ],
  "config": {
    "view": {"fill": "#f0f8ff", "stroke": "black", "strokeWidth": 1},
    "axis": {"labelFont": "Liberation Sans", "titleFont": "Liberation Sans", "labelColor": "black", "titleColor": "black", "domain": false}
  }
}
